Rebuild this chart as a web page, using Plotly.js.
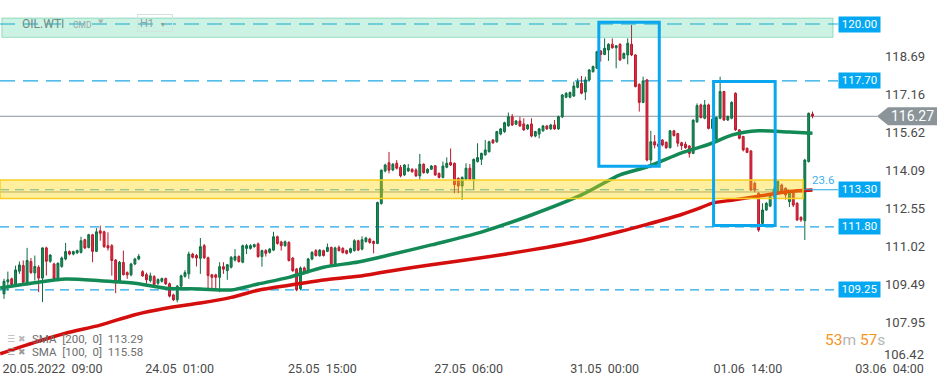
<!DOCTYPE html>
<html><head><meta charset="utf-8">
<script src="https://cdn.plot.ly/plotly-3.0.1.min.js"></script>
<style>html,body{margin:0;padding:0;background:#fff}#chart{width:949px;height:385px}</style>
</head><body><div id="chart"></div>
<script>
// ---- data (OIL.WTI, H1 candles) ----
const openP = [109.09,109.58,109.70,109.47,110.01,110.24,109.47,110.40,109.94,110.17,109.73,110.95,110.41,110.30,109.63,110.20,110.50,110.80,110.70,110.75,
110.77,111.28,110.97,111.48,110.81,111.64,111.60,111.04,111.04,110.46,109.59,110.36,109.95,109.86,110.30,110.50,109.99,109.87,109.63,109.79,
109.52,109.60,109.71,109.50,109.05,108.85,109.40,109.80,109.90,110.70,110.64,110.53,111.04,110.55,109.86,109.86,109.76,110.19,110.03,110.17,
110.46,110.60,110.37,110.93,110.93,111.00,111.11,110.60,110.84,110.77,110.86,111.40,111.19,111.04,111.17,110.54,110.10,109.30,110.14,109.97,
110.50,110.84,110.63,110.84,110.81,110.97,110.23,110.97,110.93,110.84,110.77,110.84,111.24,110.90,111.21,111.31,111.21,111.13,112.74,114.06,
114.39,114.10,114.37,114.21,113.90,114.06,114.13,114.10,113.86,114.33,113.99,114.13,114.27,113.96,113.80,114.21,114.40,114.37,113.76,113.45,
113.72,114.17,113.70,114.44,114.53,114.71,114.84,115.31,115.24,115.55,115.65,115.88,116.25,115.95,116.08,115.96,115.76,115.96,115.47,115.55,
115.68,115.88,115.76,115.92,115.76,116.25,117.04,117.04,117.09,117.44,117.60,117.25,117.74,118.07,118.21,118.91,118.77,118.95,119.18,119.04,
119.18,118.61,118.75,119.18,118.75,117.56,116.83,117.74,114.50,115.24,115.15,115.31,115.22,115.00,115.68,115.57,115.20,115.14,115.07,114.77,
116.05,116.73,116.19,116.73,115.78,115.35,116.19,117.27,116.12,116.19,117.20,115.72,115.45,114.98,114.87,113.56,113.16,111.94,112.48,112.64,
113.02,113.22,113.49,113.36,112.82,113.16,112.75,112.19,112.05,114.44,116.36];
const highP = [109.70,109.99,109.75,110.23,110.40,110.44,110.95,110.54,110.64,110.25,110.97,111.00,110.70,110.35,110.36,110.60,111.15,110.85,110.84,110.88,
111.40,111.32,111.52,111.52,111.75,111.85,111.65,111.58,111.10,110.50,110.42,110.84,110.00,110.35,110.55,110.70,110.05,109.95,109.95,109.85,
109.72,109.75,109.75,109.55,109.10,109.45,109.87,110.05,110.80,110.75,110.70,111.35,111.11,110.60,109.90,109.90,110.37,110.37,110.30,110.62,
110.90,110.65,111.08,111.11,111.10,111.12,111.17,110.88,110.90,110.95,111.60,111.45,111.24,111.25,111.22,110.58,110.14,110.20,110.20,110.55,
110.82,110.90,110.90,110.88,111.13,111.00,111.00,111.05,110.98,110.88,110.96,111.30,111.28,111.42,111.40,111.36,111.25,112.82,114.12,114.35,
114.83,114.38,114.50,114.30,114.33,114.34,114.17,114.17,114.75,114.37,114.17,114.30,114.30,114.00,114.44,114.61,114.97,114.40,113.80,113.84,
114.37,114.34,114.56,115.18,114.80,115.31,115.28,115.35,115.68,115.80,116.05,116.42,116.36,116.12,116.25,116.19,115.96,116.19,115.68,115.80,
115.92,115.92,115.96,116.12,116.30,117.17,117.24,117.27,117.67,117.80,117.90,117.87,118.18,118.32,118.92,118.95,119.42,119.22,119.42,119.15,
119.22,118.85,119.42,119.96,118.78,117.60,117.87,117.78,115.68,115.51,115.20,115.35,115.25,115.72,115.72,115.60,115.24,115.24,115.10,116.15,
116.79,116.78,116.93,116.78,116.20,116.26,117.87,117.30,116.30,116.88,117.24,115.75,115.48,115.00,114.90,113.63,113.20,112.75,112.80,113.06,
113.40,113.70,113.55,113.40,113.26,113.20,112.80,112.22,114.55,116.42,116.46];
const lowP = [108.89,109.23,109.40,109.45,109.90,109.50,109.43,109.90,109.63,109.16,108.76,109.83,110.35,109.65,109.60,110.15,110.45,110.65,110.65,110.70,
110.72,110.90,110.93,110.37,110.78,111.24,110.95,110.84,109.83,109.12,109.55,109.83,109.70,109.80,110.25,110.45,109.78,109.50,109.55,109.40,
109.45,109.55,109.45,108.95,108.80,108.75,109.35,109.75,109.70,110.52,110.20,109.90,110.50,109.30,109.30,109.30,109.16,109.90,109.66,110.12,
110.40,110.35,110.33,110.70,110.88,110.96,110.55,110.19,110.60,110.72,110.82,111.08,110.84,111.00,110.40,109.98,109.20,109.25,109.92,109.92,
110.45,110.60,110.60,110.60,110.78,110.20,110.20,110.80,110.72,110.68,110.72,110.80,110.82,110.85,111.16,111.12,110.73,111.10,112.70,114.00,
113.96,114.05,114.12,113.80,113.86,114.02,113.99,113.82,113.70,113.95,113.95,114.10,113.86,113.76,113.76,114.17,114.26,113.16,113.16,112.89,
113.70,113.70,113.29,114.40,114.30,114.68,114.80,115.15,115.20,115.50,115.60,115.85,115.88,115.92,115.85,115.68,115.72,115.42,115.42,115.38,
115.65,115.72,115.72,115.72,115.72,116.20,117.00,117.00,117.05,117.40,117.16,116.93,117.70,118.04,118.18,118.48,118.74,118.51,119.00,118.21,
118.50,118.58,118.37,118.70,117.44,116.46,116.80,114.45,114.17,114.97,114.95,115.05,114.95,114.97,115.45,115.04,114.91,114.96,114.60,114.74,
116.00,116.18,116.15,115.74,115.72,115.30,116.15,116.08,116.08,116.15,115.68,115.34,114.85,114.78,113.25,113.20,111.60,111.90,112.45,112.60,
112.98,113.18,113.15,112.90,112.60,112.60,112.04,112.00,111.27,114.40,116.19];
const closeP = [109.60,109.66,109.47,110.06,110.26,109.56,110.44,109.95,110.20,109.73,110.95,110.41,110.66,109.70,110.33,110.54,110.80,110.70,110.80,110.84,
111.24,110.95,111.48,110.81,111.60,111.54,111.00,110.95,110.44,109.60,110.37,109.87,109.86,110.30,110.50,110.61,109.82,109.66,109.82,109.47,
109.67,109.71,109.50,109.00,108.85,109.40,109.82,109.95,110.70,110.57,110.54,111.00,110.55,109.83,109.76,109.76,110.19,110.09,110.27,110.57,
110.60,110.40,111.04,111.04,111.04,111.08,110.60,110.84,110.73,110.90,111.40,111.13,111.04,111.20,110.44,110.03,109.25,110.14,109.97,110.50,
110.77,110.64,110.86,110.64,110.97,110.23,110.95,110.84,110.76,110.73,110.92,111.24,110.86,111.28,111.35,111.17,111.13,112.78,114.09,114.30,
114.09,114.33,114.17,113.86,114.30,114.17,114.03,113.86,114.33,113.99,114.13,114.26,113.90,113.80,114.26,114.37,114.30,113.50,113.45,113.80,
114.17,113.72,114.53,114.60,114.77,114.91,115.24,115.20,115.65,115.76,116.01,116.25,115.92,116.08,115.88,115.72,115.92,115.47,115.65,115.76,
115.88,115.76,115.92,115.76,116.25,117.13,117.20,117.23,117.49,117.67,117.20,117.74,118.14,118.28,118.88,118.77,119.02,119.18,119.04,119.12,
118.55,118.81,119.22,118.75,117.47,116.83,117.70,114.50,115.24,115.11,115.05,115.11,115.00,115.68,115.49,115.18,115.08,115.00,114.77,116.11,
116.70,116.22,116.73,115.78,116.15,116.22,117.27,116.12,116.26,116.83,115.72,115.38,114.91,114.81,113.29,113.29,111.67,112.48,112.75,113.02,
113.30,113.63,113.22,113.09,113.22,112.68,112.08,112.08,114.50,116.39,116.28];
const candleIdx = closeP.map((_, i) => i + 1);

// moving averages read at sample candles
const smaIdx = [0,9,17,26,35,43,52,60,67,75,84,93,101,112,125,138,151,161,168,177,182,185,190,197,205,211];
const sma100 = [109.33,109.54,109.69,109.62,109.52,109.32,109.29,109.25,109.49,109.76,110.17,110.38,110.66,111.07,111.59,112.28,113.09,113.90,114.22,114.79,115.03,115.19,115.51,115.68,115.63,115.58];
const sma200 = [106.67,107.13,107.50,107.83,108.25,108.51,108.72,108.95,109.24,109.44,109.65,109.80,110.01,110.27,110.55,110.87,111.24,111.61,111.90,112.30,112.58,112.76,112.88,113.04,113.23,113.29];

// axis ticks
const yTicks = [118.69,117.16,115.62,114.09,112.55,111.02,109.49,107.95];
const yBottomTick = 106.42;
const xTickIdx = [13.6,46.6,83.7,121.7,157.0,194.2,231.0];
const xTickText = ['20.05.2022\u00a0\u00a009:00','24.05\u00a0\u00a001:00','25.05\u00a0\u00a015:00','27.05\u00a0\u00a006:00','31.05\u00a0\u00a000:00','01.06\u00a0\u00a014:00','03.06\u00a0\u00a004:00'];

// drawn levels and zones
const levels = [120.00,117.70,113.30,111.80,109.25];
const lastPrice = 116.27;
const greenZone = [119.46,120.24];
const yellowZone = [112.95,113.69];
const fibLevel = 113.21;
const fibLabel = '23.6';
const boxes = [[155.5,171.2,114.25,120.07],[185.3,201.3,111.86,117.68]];
const sma200Last = 113.29, sma100Last = 115.58;

const FONT = 'Roboto, "Open Sans", sans-serif';
const BLUE = '#1fa7e4';
const LEVEL_END = 838/949;
const NB = '\u00a0';

const traces = [
  {type:'candlestick', x:candleIdx, open:openP, high:highP, low:lowP, close:closeP,
   increasing:{line:{color:'#0c6c42',width:1}, fillcolor:'#1b8d58'},
   decreasing:{line:{color:'#b8192d',width:1}, fillcolor:'#e22b3f'},
   whiskerwidth:0, hoverinfo:'skip', showlegend:false},
  {type:'scatter', mode:'lines', x:smaIdx, y:sma100, line:{color:'#138a56',width:3.5,shape:'spline',smoothing:0.7}, hoverinfo:'skip', showlegend:false},
  {type:'scatter', mode:'lines', x:smaIdx, y:sma200, line:{color:'#d40d0d',width:3.5,shape:'spline',smoothing:0.7}, hoverinfo:'skip', showlegend:false}
];

const shapes = [];
shapes.push({type:'rect', xref:'paper', yref:'y', x0:0.002, x1:833/949, y0:greenZone[0], y1:greenZone[1],
  fillcolor:'rgba(0,190,120,0.2)', line:{color:'rgba(0,170,110,0.35)',width:1}, layer:'above'});
levels.forEach(v => {
  const isMain = (v === 120.00 || v === 117.70);
  shapes.push({type:'line', xref:'paper', yref:'y', x0:0, x1:(v===113.30 ? 803/949 : LEVEL_END), y0:v, y1:v,
    line:{color:BLUE, width:1.2, dash: isMain ? '15px,8px' : '9px,6px'}, layer:'below'});
});
shapes.push({type:'line', xref:'paper', yref:'y', x0:803/949, x1:LEVEL_END, y0:levels[2], y1:levels[2], line:{color:BLUE,width:1.2}, layer:'above'});
shapes.push({type:'line', xref:'paper', yref:'y', x0:0, x1:803/949, y0:fibLevel, y1:fibLevel, line:{color:'#8d9599',width:1}, layer:'below'});
shapes.push({type:'line', xref:'paper', yref:'y', x0:0, x1:877/949, y0:lastPrice, y1:lastPrice, line:{color:'#8d9599',width:1}, layer:'below'});
shapes.push({type:'rect', xref:'paper', yref:'y', x0:0, x1:803/949, y0:yellowZone[0], y1:yellowZone[1],
  fillcolor:'rgba(255,212,0,0.38)', line:{color:'#f6cf22',width:1.5}, layer:'above'});
boxes.forEach(b => shapes.push({type:'rect', xref:'x', yref:'y', x0:b[0], x1:b[1], y0:b[2], y1:b[3],
  line:{color:'#0aa7ef',width:3}, fillcolor:'rgba(0,0,0,0)', layer:'above'}));
shapes.push({type:'path', xref:'paper', yref:'y', xsizemode:'pixel', ysizemode:'pixel', xanchor:1, yanchor:lastPrice,
  path:'M-72,0 L-61,9 L-12,9 L-12,-9 L-61,-9 Z', fillcolor:'#8b9499', line:{width:0}, layer:'above'});

const annotations = [];
levels.forEach(v => annotations.push({xref:'paper', yref:'y', x:LEVEL_END, y:v, xanchor:'left', yanchor:'middle',
  text:v.toFixed(2), showarrow:false, bgcolor:'#04a8f2', borderpad:2, width:37, height:10.5,
  font:{family:FONT,size:11.5,color:'#ffffff'}}));
annotations.push({xref:'paper', yref:'y', x:912/949, y:lastPrice, xanchor:'center', yanchor:'middle', text:lastPrice.toFixed(2),
  showarrow:false, font:{family:FONT,size:14,color:'#ffffff'}});
annotations.push({xref:'paper', yref:'paper', x:1, y:(385-26-354)/359, xanchor:'right', xshift:-23, yanchor:'middle', text:yBottomTick.toFixed(2),
  showarrow:false, font:{family:FONT,size:13,color:'#4a4a4a'}});
annotations.push({xref:'paper', yref:'y', x:810/949, y:113.69, xanchor:'left', yanchor:'middle', text:fibLabel,
  showarrow:false, font:{family:FONT,size:11.5,color:'#3cb0e8'}});
annotations.push({xref:'paper', yref:'paper', x:20/949, y:(359-24)/359, xanchor:'left', yanchor:'middle', text:'OIL.WTI',
  showarrow:false, font:{family:FONT,size:12,color:'#6f8c84'}});
annotations.push({xref:'paper', yref:'paper', x:71/949, y:(359-25)/359, xanchor:'left', yanchor:'middle', text:'CMD',
  showarrow:false, font:{family:FONT,size:8.5,color:'#93aba4'}});
annotations.push({xref:'paper', yref:'paper', x:96/949, y:(359-22)/359, xanchor:'left', yanchor:'middle', text:'▼',
  showarrow:false, font:{family:'DejaVu Sans',size:7,color:'#a7bab4'}});
annotations.push({xref:'paper', yref:'paper', x:137/949, y:(359-23)/359, xanchor:'left', yanchor:'middle',
  text:'H1' + NB + NB + '<span style="font-size:7px">▼</span>', showarrow:false, bordercolor:'#d5e3de', borderwidth:1, borderpad:2, width:30, height:12,
  align:'left', font:{family:FONT,size:11,color:'#8ea39d'}});
[[339, ['SMA','[200,','0]',sma200Last.toFixed(2)], '#b8b8b8'], [352, ['SMA','[100,','0]',sma100Last.toFixed(2)], '#9a9a9a']].forEach(r => {
  annotations.push({xref:'paper', yref:'paper', x:5/949, y:(359-r[0])/359, xanchor:'left', yanchor:'middle',
    text:'☰' + NB + '✖', showarrow:false, font:{family:'DejaVu Sans',size:9,color:r[2]}});
  annotations.push({xref:'paper', yref:'paper', x:30/949, y:(359-r[0])/359, xanchor:'left', yanchor:'middle',
    text:r[1].join(NB + NB), showarrow:false, font:{family:FONT,size:11.5,color:'#6e6e6e'}});
});
annotations.push({xref:'paper', yref:'paper', x:823/949, y:(359-340)/359, xanchor:'left', yanchor:'middle',
  text:'<span style="color:#f7941d">53</span><span style="color:#b5b5b5">m</span> <span style="color:#f7941d">57</span><span style="color:#b5b5b5">s</span>',
  showarrow:false, font:{family:FONT,size:15.5,color:'#f7941d'}});

const layout = {
  width:949, height:385, margin:{l:0,r:0,t:0,b:26}, paper_bgcolor:'#ffffff', plot_bgcolor:'#ffffff',
  showlegend:false, hovermode:false,
  xaxis:{range:[-0.04,246.45], showgrid:false, zeroline:false, showline:false, ticks:'',
    tickvals:xTickIdx, ticktext:xTickText, tickfont:{family:FONT,size:12.5,color:'#4a4a4a'},
    rangeslider:{visible:false}, fixedrange:true},
  yaxis:{range:[106.459,120.970], side:'right', showgrid:false, zeroline:false, showline:false, ticks:'',
    tickvals:yTicks, ticktext:yTicks.map(v=>v.toFixed(2)), ticklabelposition:'inside', ticklabelstandoff:21,
    ticklabeloverflow:'allow', tickfont:{family:FONT,size:13,color:'#4a4a4a'}, fixedrange:true},
  shapes:shapes, annotations:annotations
};

Plotly.newPlot('chart', traces, layout, {staticPlot:true, displayModeBar:false});
</script></body></html>
